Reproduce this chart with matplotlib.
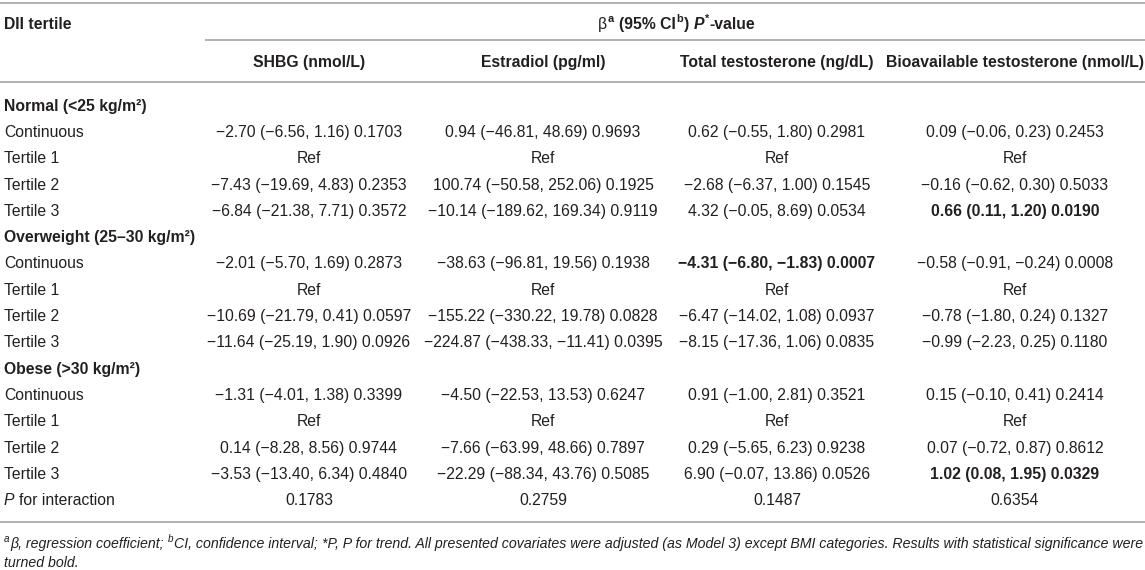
import matplotlib
matplotlib.use("Agg")
import matplotlib.pyplot as plt

# Tabel: DII tertile vs hormon per kategori BMI
groups = ["Normal (<25 kg/m²)", "Overweight (25–30 kg/m²)", "Obese (>30 kg/m²)"]
row_labels = ["Continuous", "Tertile 1", "Tertile 2", "Tertile 3"]
columns = ["SHBG (nmol/L)", "Estradiol (pg/ml)", "Total testosterone (ng/dL)",
           "Bioavailable testosterone (nmol/L)"]

# (beta, CI bawah, CI atas, p) untuk Continuous, Tertile 2, Tertile 3 tiap grup
shbg = [(-2.70, -6.56, 1.16, 0.1703), (-7.43, -19.69, 4.83, 0.2353), (-6.84, -21.38, 7.71, 0.3572),
        (-2.01, -5.70, 1.69, 0.2873), (-10.69, -21.79, 0.41, 0.0597), (-11.64, -25.19, 1.90, 0.0926),
        (-1.31, -4.01, 1.38, 0.3399), (0.14, -8.28, 8.56, 0.9744), (-3.53, -13.40, 6.34, 0.4840)]
estradiol = [(0.94, -46.81, 48.69, 0.9693), (100.74, -50.58, 252.06, 0.1925), (-10.14, -189.62, 169.34, 0.9119),
             (-38.63, -96.81, 19.56, 0.1938), (-155.22, -330.22, 19.78, 0.0828), (-224.87, -438.33, -11.41, 0.0395),
             (-4.50, -22.53, 13.53, 0.6247), (-7.66, -63.99, 48.66, 0.7897), (-22.29, -88.34, 43.76, 0.5085)]
total_t = [(0.62, -0.55, 1.80, 0.2981), (-2.68, -6.37, 1.00, 0.1545), (4.32, -0.05, 8.69, 0.0534),
           (-4.31, -6.80, -1.83, 0.0007), (-6.47, -14.02, 1.08, 0.0937), (-8.15, -17.36, 1.06, 0.0835),
           (0.91, -1.00, 2.81, 0.3521), (0.29, -5.65, 6.23, 0.9238), (6.90, -0.07, 13.86, 0.0526)]
bio_t = [(0.09, -0.06, 0.23, 0.2453), (-0.16, -0.62, 0.30, 0.5033), (0.66, 0.11, 1.20, 0.0190),
         (-0.58, -0.91, -0.24, 0.0008), (-0.78, -1.80, 0.24, 0.1327), (-0.99, -2.23, 0.25, 0.1180),
         (0.15, -0.10, 0.41, 0.2414), (0.07, -0.72, 0.87, 0.8612), (1.02, 0.08, 1.95, 0.0329)]
p_interaction = [0.1783, 0.2759, 0.1487, 0.6354]

# sel yang dicetak tebal: (grup, baris, kolom)
bold_cells = [(0, 3, 3), (1, 0, 2), (2, 3, 3)]

footnote1 = ("β, regression coefficient;", "CI, confidence interval;",
             "*P, P for trend. All presented covariates were adjusted (as Model 3) except BMI categories. "
             "Results with statistical significance were")
footnote2 = "turned bold."

# layout
W, H = 1145, 570
col_x = [309, 543, 777, 1015]
left_x = 4
row0_y = 105
row_dy = 26.3
FS = 11.3
FS_NOTE = 10.15
TXT = "#231f20"
LINE = "#b0b0b0"

plt.rcParams['font.family'] = ['Liberation Sans', 'DejaVu Sans']

fig = plt.figure(figsize=(W / 100, H / 100), dpi=100)
ax = fig.add_axes([0, 0, 1, 1])
ax.set_xlim(0, W)
ax.set_ylim(H, 0)
ax.axis('off')
renderer = fig.canvas.get_renderer()


def px(pt):
    return pt * 100 / 72.0


def fmt(v, nd=2):
    return f"{v:.{nd}f}".replace("-", "−")


def cell(t):
    b, lo, hi, p = t
    return f"{fmt(b)} ({fmt(lo)}, {fmt(hi)}) {fmt(p, 4)}"


def space_w(size, weight, style):
    a = ax.text(0, 0, "a a", fontsize=size, fontweight=weight, fontstyle=style)
    b = ax.text(0, 0, "aa", fontsize=size, fontweight=weight, fontstyle=style)
    w = a.get_window_extent(renderer).width - b.get_window_extent(renderer).width
    a.remove()
    b.remove()
    return w


def put_runs(x, yc, runs, ha='left', size=FS):
    # runs: (teks, weight, style, superscript?, spasi sebelum?)
    base = yc + 0.716 * px(size) / 2
    texts, gaps = [], []
    for s, wt, st, sup, sp in runs:
        fs = size * 0.7 if sup else size
        y = base - 0.42 * px(size) if sup else base
        t = ax.text(0, y, s, fontsize=fs, fontweight=wt, fontstyle=st,
                    va='baseline', ha='left', color=TXT)
        texts.append(t)
        gaps.append(space_w(size, wt, st) if sp else 0.0)
    widths = [t.get_window_extent(renderer).width for t in texts]
    total = sum(widths) + sum(gaps)
    x0 = x - total / 2 if ha == 'center' else x
    for t, w, g in zip(texts, widths, gaps):
        x0 += g
        t.set_x(x0)
        x0 += w + 0.5


def put(x, yc, s, ha='left', weight='normal', size=FS):
    put_runs(x, yc, [(s, weight, 'normal', False, False)], ha=ha, size=size)


# garis horizontal
ax.plot([0, W], [3, 3], color=LINE, lw=1.4, solid_capstyle='butt')
ax.plot([205, W], [40, 40], color=LINE, lw=1.4, solid_capstyle='butt')
ax.plot([0, W], [82, 82], color=LINE, lw=1.4, solid_capstyle='butt')

# header
put(left_x, 23, "DII tertile", weight='bold')
put_runs(675, 23, [("β", 'normal', 'normal', False, False),
                   ("a", 'bold', 'normal', True, False),
                   ("(95% CI", 'bold', 'normal', False, True),
                   ("b", 'bold', 'normal', True, False),
                   (")", 'bold', 'normal', False, False),
                   ("P", 'bold', 'italic', False, True),
                   ("*", 'bold', 'normal', True, False),
                   ("-value", 'bold', 'normal', False, False)], ha='center')
for cx, name in zip(col_x, columns):
    put(cx, 61, name, ha='center', weight='bold')

# isi tabel
series = [shbg, estradiol, total_t, bio_t]
r = 0
for g, gname in enumerate(groups):
    put(left_x, row0_y + r * row_dy, gname, weight='bold')
    r += 1
    k = 0
    for i, lab in enumerate(row_labels):
        y = row0_y + r * row_dy
        put(left_x, y, lab)
        for c, cx in enumerate(col_x):
            if i == 1:
                put(cx, y, "Ref", ha='center')
            else:
                wt = 'bold' if (g, i, c) in bold_cells else 'normal'
                put(cx, y, cell(series[c][g * 3 + k]), ha='center', weight=wt)
        if i != 1:
            k += 1
        r += 1

y = row0_y + r * row_dy
put_runs(left_x, y, [("P", 'normal', 'italic', False, False),
                     ("for interaction", 'normal', 'normal', False, True)])
for cx, p in zip(col_x, p_interaction):
    put(cx, y, fmt(p, 4), ha='center')

line_y = y + 22.5
ax.plot([0, W], [line_y, line_y], color=LINE, lw=1.4, solid_capstyle='butt')

# catatan kaki
put_runs(left_x, line_y + 21, [("a", 'normal', 'italic', True, False),
                               (footnote1[0], 'normal', 'italic', False, False),
                               ("b", 'normal', 'italic', True, True),
                               (footnote1[1], 'normal', 'italic', False, False),
                               (footnote1[2], 'normal', 'italic', False, True)], size=FS_NOTE)
put_runs(left_x, line_y + 40, [(footnote2, 'normal', 'italic', False, False)], size=FS_NOTE)

fig.savefig("out.png", dpi=100)
